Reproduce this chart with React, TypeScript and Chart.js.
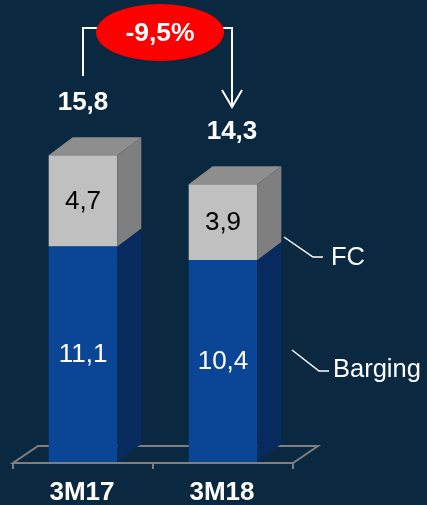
import React, { useEffect, useRef } from "react";
import { Chart, registerables } from "chart.js";
Chart.register(...registerables);

const categories = ["3M17", "3M18"];
const barging = [11.1, 10.4];
const fc = [4.7, 3.9];
const seriesNames = ["Barging", "FC"];
const yMax = 20;

const fmt = (v: number) => v.toFixed(1).replace(".", ",");
const FONT = "'Liberation Sans', Arial, sans-serif";

export default function App() {
  const ref = useRef<HTMLCanvasElement>(null);
  useEffect(() => {
    document.body.style.margin = "0";
    const totals = categories.map((_, i) => barging[i] + fc[i]);
    const change = ((totals[1] - totals[0]) / totals[0]) * 100;
    const BG = "#0a2840";
    const DX = 24;
    const DY = 18;
    const sideColors = ["#072a5f", "#7f7f7f"];
    const topColor = "#8e8e8e";

    const poly = (ctx: CanvasRenderingContext2D, pts: number[][], color: string) => {
      ctx.beginPath();
      ctx.moveTo(pts[0][0], pts[0][1]);
      for (let i = 1; i < pts.length; i++) ctx.lineTo(pts[i][0], pts[i][1]);
      ctx.closePath();
      ctx.fillStyle = color;
      ctx.fill();
    };

    const plugin = {
      id: "deco",
      beforeDraw(chart: any) {
        const ctx = chart.ctx;
        ctx.save();
        ctx.fillStyle = BG;
        ctx.fillRect(0, 0, chart.width, chart.height);
        ctx.restore();
      },
      beforeDatasetsDraw(chart: any) {
        const ctx = chart.ctx;
        const { left, right } = chart.chartArea;
        const y0 = chart.scales.y.getPixelForValue(0) + 1;
        ctx.save();
        ctx.strokeStyle = "#7f7f7f";
        ctx.lineWidth = 2;
        ctx.beginPath();
        ctx.moveTo(left, y0);
        ctx.lineTo(right, y0);
        ctx.lineTo(right + 25, y0 - 17);
        ctx.lineTo(left + 25, y0 - 17);
        ctx.closePath();
        ctx.stroke();
        const xs = chart.scales.x;
        const ticks = [left, (xs.getPixelForValue(0) + xs.getPixelForValue(1)) / 2, right];
        ticks.forEach((t) => {
          ctx.beginPath();
          ctx.moveTo(t, y0);
          ctx.lineTo(t, y0 + 6);
          ctx.stroke();
        });
        ctx.restore();
      },
      afterDatasetsDraw(chart: any) {
        const ctx = chart.ctx;
        ctx.save();
        const metas = [chart.getDatasetMeta(0), chart.getDatasetMeta(1)];
        // 3D sides and tops
        metas.forEach((meta: any, di: number) => {
          meta.data.forEach((bar: any) => {
            const p = bar.getProps(["x", "y", "base", "width"], true);
            const l = p.x - p.width / 2;
            const r = p.x + p.width / 2;
            poly(ctx, [[r, p.y], [r + DX, p.y - DY], [r + DX, p.base - DY], [r, p.base]], sideColors[di]);
            if (di === metas.length - 1) {
              poly(ctx, [[l, p.y], [l + DX, p.y - DY], [r + DX, p.y - DY], [r, p.y]], topColor);
            }
          });
        });
        // value labels
        ctx.textAlign = "center";
        ctx.textBaseline = "middle";
        metas.forEach((meta: any, di: number) => {
          const vals = di === 0 ? barging : fc;
          meta.data.forEach((bar: any, i: number) => {
            const p = bar.getProps(["x", "y", "base"], true);
            ctx.font = `26px ${FONT}`;
            ctx.fillStyle = di === 0 ? "#ffffff" : "#000000";
            ctx.fillText(fmt(vals[i]), p.x, (p.y + p.base) / 2 + 1);
          });
        });
        // category labels
        ctx.font = `bold 26px ${FONT}`;
        ctx.fillStyle = "#ffffff";
        metas[0].data.forEach((bar: any, i: number) => {
          ctx.fillText(categories[i], bar.x - 1, 493);
        });
        // totals
        const tops = metas[1].data.map((b: any) => b.y);
        const totX = [metas[1].data[0].x, metas[1].data[1].x + 9];
        ctx.font = `bold 26px ${FONT}`;
        totals.forEach((t, i) => {
          ctx.fillText(fmt(t), totX[i], tops[i] - 52);
        });
        // bracket & arrow
        ctx.strokeStyle = "#ffffff";
        ctx.lineWidth = 2;
        ctx.beginPath();
        ctx.moveTo(totX[0], 76);
        ctx.lineTo(totX[0], 28);
        ctx.lineTo(100, 28);
        ctx.moveTo(220, 28);
        ctx.lineTo(totX[1], 28);
        ctx.lineTo(totX[1], 107);
        ctx.moveTo(totX[1] - 10, 90);
        ctx.lineTo(totX[1], 107);
        ctx.lineTo(totX[1] + 10, 90);
        ctx.stroke();
        // ellipse
        ctx.beginPath();
        ctx.ellipse(160, 32.5, 64, 28.5, 0, 0, Math.PI * 2);
        ctx.fillStyle = "#ff0000";
        ctx.fill();
        ctx.fillStyle = "#ffffff";
        ctx.font = `bold 26.5px ${FONT}`;
        ctx.fillText(`${change < 0 ? "-" : "+"}${fmt(Math.abs(change))}%`, 160, 34);
        // series leaders
        ctx.lineWidth = 1.5;
        ctx.beginPath();
        ctx.moveTo(284, 237);
        ctx.lineTo(313, 257);
        ctx.lineTo(323, 257);
        ctx.moveTo(292, 350);
        ctx.lineTo(319, 371);
        ctx.lineTo(329, 371);
        ctx.stroke();
        ctx.textAlign = "left";
        ctx.font = `25.5px ${FONT}`;
        ctx.fillText(seriesNames[1], 331, 258);
        ctx.fillText(seriesNames[0], 333, 370);
        ctx.restore();
      },
    };

    const chart = new Chart(ref.current!, {
      type: "bar",
      data: {
        labels: categories,
        datasets: [
          { label: seriesNames[0], data: barging, backgroundColor: "#0b4595", borderWidth: 0 },
          { label: seriesNames[1], data: fc, backgroundColor: "#c0c0c0", borderWidth: 0 },
        ],
      },
      options: {
        responsive: false,
        animation: false,
        layout: { padding: { left: 13, right: 134, top: 73.6, bottom: 43 } },
        plugins: { legend: { display: false }, tooltip: { enabled: false } },
        scales: {
          x: { display: false, stacked: true, offset: true, grid: { display: false } },
          y: { display: false, stacked: true, min: 0, max: yMax },
        },
        datasets: { bar: { categoryPercentage: 1, barPercentage: 0.49 } },
      },
      plugins: [plugin],
    });
    return () => chart.destroy();
  }, []);
  return (
    <div style={{ position: "absolute", left: 0, top: 0, width: 427, height: 505 }}>
      <canvas ref={ref} width={427} height={505} style={{ display: "block" }} />
    </div>
  );
}
